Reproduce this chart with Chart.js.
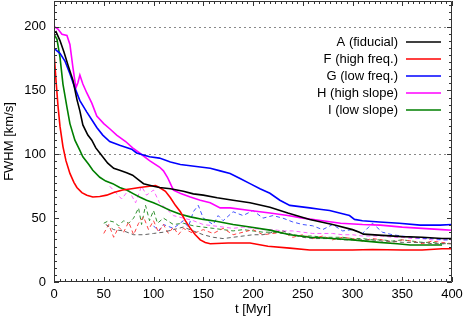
<!DOCTYPE html>
<html>
<head>
<meta charset="utf-8">
<script src="https://cdn.jsdelivr.net/npm/chart.js@4.4.1/dist/chart.umd.min.js"></script>
<style>
  html, body { margin: 0; padding: 0; background: #fff; }
  #wrap { width: 463px; height: 319px; }
</style>
</head>
<body>
<div id="wrap"><canvas id="myChart"></canvas></div>
<script>
// FWHM vs time, solid curves
const tA = [0,2,6,10,14,19,23,26,29,34,38,42,46,54,60,66,73,79,85,90,100,106,117,130,140,150,164,180,197,217,235,257,280,300,307,311,330,350,370,390,400];
const fwhmA = [195,196,189,180,170,158,143,134,123,115,111,105,101,93,89,87.5,85.5,83.6,80,77,75,74,73,71,69,68,66,64,62,58.5,54,49,45,41,39,37.5,36.5,35.5,35,34,34];

const tF = [0,2,4,6,9,12,16,20,23,28,33,39,46,53,60,69,78,86,96,102,106,112,117,122,127,132,137,142,147,152,157,175,197,215,237,257,280,300,320,350,370,390,400];
const fwhmF = [180,158,138,122,106,95,85,78,74,70,68,66.5,67,68,70,72,73,74,75,75.5,74,71,66,60,55,48,42,37,33,31,30,30.5,30.5,28,26.5,25,25,25,25.5,25,25,26,26];

const tG = [0,3,6,11,16,21,26,33,38,43,49,56,66,78,83,96,106,117,127,137,147,157,167,177,187,197,207,217,227,237,247,257,267,277,287,297,302,310,327,347,368,388,400];
const fwhmG = [183,181,179,173,163,152,142,133,127,121,115,110,107,104,101,98,97,94,92,91,90,89,87,85,81,77,73,69.5,64,60,59,58,57,56,54,52,49,48,47,46,44.5,44.5,45];

const tH = [0,4,8,13,16,19,22,24,26,29,33,38,43,50,56,63,72,79,86,96,106,110,114,117,120,128,137,147,157,167,177,197,217,235,250,270,288,310,328,350,370,390,400];
const fwhmH = [200,198,194,193,186,168,152,156,162,155,148,140,130,124,120,115,110,105,101,95,90,87,82,77,72,69,66.5,64,62,58,58,56,54,52,50,48,46,45,44.5,43,42,41,40.5];

const tI = [0,3,6,9,13,16,21,26,29,35,39,46,52,59,66,73,80,86,93,100,106,117,127,137,150,163,180,197,217,237,257,280,300,327,345,358,375,390];
const fwhmI = [194,190,176,155,137,124,111,103,98,92,87.5,82,79,77,74,72,69,66.5,64,62,60,56,53,51,49,47.5,45,43,40.6,37,35,34,33,31,30,29,29,29];

// thin dashed curves
const tdA = [52,60,70,80,90,100,110,120,130,140,150,160,170,180,190,200,210,220,230,240,250,260,270,280,290,300,310,320,330,340,350,360,370,380,390,400];
const dA = [45,41,40,37,37,38,39,41,43,40,37,35,34,35,36,37,37,39,40,37,35,34,34,34,33,33,33,33,32,32,31,31,31,30,30,30];

const tdF = [50,55,60,65,70,75,80,85,90,95,100,105,110,115,120,125,130,140,150,160,170,180,190,200,210,220,230,240,250,260,270,280,290,300,310,320,330,340,350,360,370,380,390,400];
const dF = [38,45,35,43,39,47,37,46,51,41,48,39,45,38,43,37,42,38,41,38,42,37,39,41,37,38,39,35,37,34,36,33,35,34,32,34,33,31,33,32,30,32,31,30];

const tdG = [100,105,110,120,130,135,140,145,150,160,165,170,180,190,200,210,220,230,240,250,260,270,280,290,300,310,320,330,340,350,360,370,380,390,400];
const dG = [44,40,45,42,48,43,55,60,50,45,52,48,55,52,56,50,52,50,47,45,44,41,45,40,41,38,46,39,37,36,35,34,34,33,33];

const tdH = [56,62,68,75,82,88,93,100,106,112,120,130,140,150,160,170,180,190,200,210,220,230,240,250,260,270,280,290,300,310,320,330,340,350,360,370,380,390,400];
const dH = [75,70,65,72,62,75,68,72,62,58,52,50,48,45,44,43,42,43,42,41,41,40,40,39,38,38,38,37,37,36,36,36,35,35,34,34,33,33,33];

const tdI = [50,55,60,65,70,75,80,85,88,92,96,100,104,110,120,130,140,150,160,170,180,190,200,210,220,230,240,250,260,270,280,290,300,310,320,330,340,350,360,370,380,390,400];
const dI = [46,48,47,44,48,46,50,58,45,60,48,56,46,50,45,46,44,43,42,41,40,41,40,39,39,38,37,36,36,35,35,35,34,34,33,33,32,33,32,31,31,30,30];

const seriesNames = ["A (fiducial)", "F (high freq.)", "G (low freq.)", "H (high slope)", "I (low slope)"];
const xTicks = [0, 50, 100, 150, 200, 250, 300, 350, 400];
const yTicks = [0, 50, 100, 150, 200];
const gridValues = [100, 200];

const solidColors = ["#000000", "#ff0000", "#0000ff", "#ff00ff", "#007f00"];
const dashColors = ["#606060", "#ff4040", "#4050ff", "#ff60ff", "#309030"];

function pts(t, v) {
  return t.map((x, i) => ({ x: x, y: v[i] }));
}

const solid = [pts(tA, fwhmA), pts(tF, fwhmF), pts(tG, fwhmG), pts(tH, fwhmH), pts(tI, fwhmI)];
const dashed = [pts(tdA, dA), pts(tdF, dF), pts(tdG, dG), pts(tdH, dH), pts(tdI, dI)];

const datasets = [];
solid.forEach((d, i) => {
  datasets.push({ label: seriesNames[i], data: d, borderColor: solidColors[i], borderWidth: 1.6 });
});
dashed.forEach((d, i) => {
  datasets.push({ label: seriesNames[i] + " dashed", data: d, borderColor: dashColors[i], borderWidth: 1, borderDash: [4, 3] });
});

// gnuplot-like frame: dotted grid, box border, inward ticks, key
const frame = {
  id: "frame",
  beforeDatasetsDraw(chart) {
    const { ctx, chartArea: a, scales: { y } } = chart;
    ctx.save();
    ctx.strokeStyle = "#888";
    ctx.lineWidth = 1;
    ctx.setLineDash([2, 3]);
    gridValues.forEach((v) => {
      const py = Math.round(y.getPixelForValue(v)) + 0.5;
      ctx.beginPath();
      ctx.moveTo(a.left, py);
      ctx.lineTo(a.right, py);
      ctx.stroke();
    });
    ctx.restore();
  },
  afterDatasetsDraw(chart) {
    const { ctx, chartArea: a, scales: { x, y } } = chart;
    ctx.save();
    ctx.setLineDash([]);
    ctx.strokeStyle = "#333";
    ctx.lineWidth = 1;
    ctx.beginPath();
    ctx.rect(a.left + 0.5, a.top + 0.5, a.right - a.left - 1, a.bottom - a.top - 1);

    const sub = 9;
    for (let i = 0; i < xTicks.length - 1; i++) {
      const dx = (xTicks[i + 1] - xTicks[i]) / sub;
      for (let k = 0; k <= sub; k++) {
        const px = Math.round(x.getPixelForValue(xTicks[i] + k * dx)) + 0.5;
        const len = k === 0 || k === sub ? 5 : 3;
        ctx.moveTo(px, a.bottom); ctx.lineTo(px, a.bottom - len);
        ctx.moveTo(px, a.top); ctx.lineTo(px, a.top + len);
      }
    }
    for (let i = 0; i < yTicks.length - 1; i++) {
      const dy = (yTicks[i + 1] - yTicks[i]) / sub;
      for (let k = 0; k <= sub; k++) {
        const py = Math.round(y.getPixelForValue(yTicks[i] + k * dy)) + 0.5;
        const len = k === 0 || k === sub ? 5 : 3;
        ctx.moveTo(a.left, py); ctx.lineTo(a.left + len, py);
        ctx.moveTo(a.right, py); ctx.lineTo(a.right - len, py);
      }
    }
    // minor ticks above the last labelled tick
    const dTop = 50 / sub;
    for (let v = 200 + dTop; v < y.max; v += dTop) {
      const py = Math.round(y.getPixelForValue(v)) + 0.5;
      ctx.moveTo(a.left, py); ctx.lineTo(a.left + 3, py);
      ctx.moveTo(a.right, py); ctx.lineTo(a.right - 3, py);
    }
    ctx.stroke();

    // key
    ctx.font = "13px 'Liberation Sans', Arial, sans-serif";
    ctx.fillStyle = "#000";
    ctx.textAlign = "right";
    ctx.textBaseline = "middle";
    seriesNames.forEach((name, i) => {
      const yy = 42 + i * 17;
      ctx.fillText(name, 398, yy);
      ctx.strokeStyle = solidColors[i];
      ctx.lineWidth = 1.6;
      ctx.beginPath();
      ctx.moveTo(406, yy);
      ctx.lineTo(441, yy);
      ctx.stroke();
    });
    ctx.restore();
  }
};

Chart.defaults.font.family = "'Liberation Sans', Arial, sans-serif";
Chart.defaults.font.size = 13;
Chart.defaults.color = "#000";

function noPad(s) {
  s.paddingTop = 0;
  s.paddingBottom = 0;
  s.paddingLeft = 0;
  s.paddingRight = 0;
}

const ctx = document.getElementById("myChart").getContext("2d");
new Chart(ctx, {
  type: "line",
  data: { datasets: datasets },
  options: {
    responsive: true,
    maintainAspectRatio: false,
    animation: false,
    elements: { point: { radius: 0 }, line: { tension: 0 } },
    layout: { padding: { top: 1, right: 11, left: 0, bottom: 0 } },
    plugins: { legend: { display: false }, tooltip: { enabled: false } },
    scales: {
      x: {
        type: "linear",
        min: 0,
        max: 400,
        afterBuildTicks: (s) => { s.ticks = xTicks.map((v) => ({ value: v })); },
        afterFit: (s) => { s.height = 37; noPad(s); },
        grid: { display: false, drawTicks: false },
        border: { display: false },
        ticks: { padding: 5, maxRotation: 0 },
        title: { display: true, text: "t [Myr]", padding: { top: 0, bottom: 2 } }
      },
      y: {
        min: 0,
        max: 220,
        afterBuildTicks: (s) => { s.ticks = yTicks.map((v) => ({ value: v })); },
        afterFit: (s) => { s.width = 54; noPad(s); },
        grid: { display: false, drawTicks: false },
        border: { display: false },
        ticks: { padding: 8 },
        title: { display: true, text: "FWHM [km/s]", padding: { top: 2, bottom: 0 } }
      }
    }
  },
  plugins: [frame]
});
</script>
</body>
</html>
